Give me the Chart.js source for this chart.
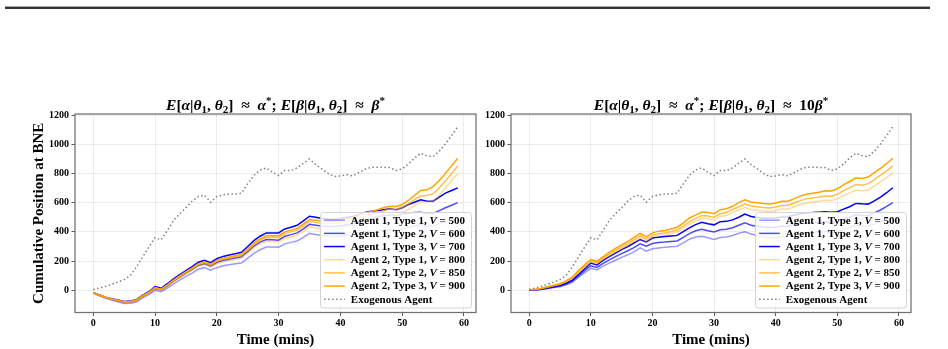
<!DOCTYPE html>
<html>
<head>
<meta charset="utf-8">
<script src="https://cdn.jsdelivr.net/npm/chart.js@4.4.1/dist/chart.umd.min.js"></script>
<style>
  html, body { margin: 0; padding: 0; background: #fff; width: 948px; height: 349px; overflow: hidden; }
  #rule { position: absolute; left: 5px; top: 6px; width: 925px; height: 2px; background: #333; border-top: 1px solid #aaa; }
  .panel { position: absolute; top: 0; height: 349px; }
</style>
</head>
<body>
<div id="rule"></div>
<div class="panel" style="left:0;width:480px"><canvas id="left" width="480" height="349"></canvas></div>
<div class="panel" style="left:480px;width:468px"><canvas id="right" width="468" height="349"></canvas></div>
<script>
// time axis (minutes) and ticks
const minutes = [0,1,2,3,4,5,6,7,8,9,10,11,12,13,14,15,16,17,18,19,20,21,22,23,24,25,26,27,28,29,
                 30,31,32,33,34,35,36,37,38,39,40,41,42,43,44,45,46,47,48,49,50,51,52,53,54,55,56,57,58,59];
const xTicks = [0, 10, 20, 30, 40, 50, 60];
const yTicks = [0, 200, 400, 600, 800, 1000, 1200];

// series meta
const agents = [1, 1, 1, 2, 2, 2];
const types = [1, 2, 3, 1, 2, 3];
const valuations = [500, 600, 700, 800, 850, 900];
const exoLabel = 'Exogenous Agent';

// exogenous agent (same in both panels)
const exogenous = [5,16,27,41,57,73,102,160,228,296,
  360,346,410,478,524,565,610,642,651,603,
  642,653,660,660,665,729,786,824,838,808,
  786,820,820,838,870,899,861,831,801,779,
  783,792,783,806,829,842,842,842,840,820,
  831,865,906,938,922,915,952,1002,1059,1120];

// left panel: E[beta] ~ beta*
const leftA1T1 = [-19,-38,-54,-66,-78,-90,-88,-80,-52,-30,
  0,-10,15,44,70,95,118,144,155,138,
  155,168,175,181,187,220,253,278,296,296,
  295,318,328,338,362,390,382,375,370,368,
  372,378,380,390,400,405,408,412,416,410,
  418,430,440,450,440,440,455,470,485,500];
const leftA1T2 = [-17,-35,-50,-62,-72,-83,-80,-71,-41,-18,
  13,2,31,62,91,117,142,170,182,166,
  190,204,213,221,229,265,302,330,348,346,
  343,370,381,393,420,452,446,440,437,436,
  440,448,456,469,483,494,502,510,516,510,
  520,527,532,535,525,525,545,565,582,600];
const leftA1T3 = [-16,-32,-47,-57,-67,-76,-73,-64,-33,-10,
  25,14,45,78,108,135,162,192,205,189,
  216,232,241,250,260,300,340,370,393,393,
  393,420,432,445,475,507,500,492,488,486,
  490,498,505,518,533,542,546,552,558,551,
  565,587,603,619,610,610,638,665,683,701];
const leftA2T1 = [-17,-36,-51,-63,-74,-85,-82,-73,-43,-20,
  10,-1,27,58,86,112,137,165,176,160,
  182,196,204,212,220,255,291,318,335,334,
  330,356,367,378,404,434,428,422,420,420,
  425,434,443,457,472,484,494,504,512,510,
  530,552,580,606,608,612,650,700,750,800];
const leftA2T2 = [-16,-34,-49,-60,-70,-81,-78,-69,-39,-16,
  16,5,34,66,95,121,147,176,188,172,
  198,212,221,230,238,275,313,342,362,363,
  362,388,400,412,440,471,465,459,457,457,
  462,471,480,494,510,522,532,545,556,554,
  568,592,620,645,650,660,700,750,800,852];
const leftA2T3 = [-15,-33,-48,-59,-69,-79,-76,-67,-37,-14,
  19,8,38,70,99,126,152,181,194,178,
  204,219,228,237,246,284,323,352,373,374,
  374,400,412,424,453,485,480,474,472,472,
  478,488,497,512,528,540,551,565,576,574,
  587,615,649,683,688,710,752,800,852,904];

// right panel: E[beta] ~ 10 beta*
const rightA1T1 = [0,1,6,12,19,25,37,55,88,120,
  150,140,165,186,206,225,243,263,290,268,
  284,290,294,298,302,325,350,365,370,360,
  348,362,365,375,390,400,385,375,365,360,
  362,368,370,380,388,392,394,398,400,396,
  400,415,430,445,440,438,455,470,485,500];
const rightA1T2 = [1,2,7,14,22,29,43,63,98,135,
  168,157,185,208,230,251,271,292,318,302,
  320,327,330,334,338,362,388,408,418,408,
  400,415,418,428,445,462,446,438,433,430,
  432,438,440,450,458,462,464,468,470,466,
  470,485,500,518,512,510,530,550,575,600];
const rightA1T3 = [2,3,9,17,25,33,48,70,108,148,
  186,174,205,230,254,278,300,324,348,331,
  358,364,368,372,376,402,428,450,466,455,
  448,470,472,482,500,522,505,498,494,493,
  495,502,503,515,525,530,532,535,537,534,
  538,556,572,595,592,590,612,638,668,702];
const rightA2T1 = [4,5,12,21,31,40,58,82,122,159,
  194,183,211,238,263,284,307,332,356,335,
  366,376,380,389,399,424,451,474,493,490,
  482,505,512,532,550,566,553,548,543,540,
  545,556,557,572,587,598,604,609,616,614,
  626,648,667,686,680,688,714,744,772,802];
const rightA2T2 = [4,5,13,22,33,42,61,86,128,167,
  202,191,220,248,274,296,320,346,372,350,
  377,388,393,402,413,440,468,492,511,508,
  500,524,532,553,572,591,577,572,567,564,
  570,581,582,598,614,626,632,638,646,644,
  657,682,703,724,720,730,758,788,818,852];
const rightA2T3 = [5,6,14,24,35,45,65,91,135,175,
  211,200,230,260,287,310,335,362,389,366,
  393,405,410,420,432,460,495,515,536,532,
  525,552,558,575,600,620,605,600,595,591,
  598,610,610,628,645,658,665,672,682,680,
  695,722,745,768,765,775,805,835,868,903];

const SERIF = '"Liberation Serif", "DejaVu Serif", serif';
const lineColors = [
  'rgba(0,0,255,0.4)', 'rgba(0,0,255,0.7)', 'rgba(0,0,255,1)',
  'rgba(255,165,0,0.4)', 'rgba(255,165,0,0.7)', 'rgba(255,165,0,1)'
];
const exoColor = '#808080';

// title runs: [text, kind]  kind: b = bold, bi = bold italic, sub, sup
const titleHead = [['E','bi'],['[','b'],['α','bi'],['|','b'],['θ','bi'],['1','sub'],[', ','b'],['θ','bi'],['2','sub'],[']  ≈  ','b'],['α','bi'],['*','sup'],['; ','b'],
  ['E','bi'],['[','b'],['β','bi'],['|','b'],['θ','bi'],['1','sub'],[', ','b'],['θ','bi'],['2','sub'],[']  ≈  ','b']];
const titles = {
  left: titleHead.concat([['β','bi'],['*','sup']]),
  right: titleHead.concat([['10','b'],['β','bi'],['*','sup']])
};

function runFont(kind, size) {
  if (kind === 'bi') return `italic bold ${size}px ${SERIF}`;
  if (kind === 'sub' || kind === 'sup') return `bold ${Math.round(size * 0.7)}px ${SERIF}`;
  return `bold ${size}px ${SERIF}`;
}

function drawRuns(ctx, runs, x, y, size, align) {
  let total = 0;
  const widths = runs.map(([t, k]) => { ctx.font = runFont(k, size); const w = ctx.measureText(t).width; total += w; return w; });
  let cx = align === 'center' ? x - total / 2 : x;
  runs.forEach(([t, k], i) => {
    ctx.font = runFont(k, size);
    let dy = 0;
    if (k === 'sub') dy = size * 0.22;
    if (k === 'sup') dy = -size * 0.38;
    ctx.fillText(t, cx, y + dy);
    cx += widths[i];
  });
}

const decor = {
  id: 'decor',
  afterDraw(chart) {
    const { ctx, chartArea: a } = chart;
    ctx.save();
    // axes frame
    ctx.strokeStyle = '#707070';
    ctx.lineWidth = 1.25;
    ctx.strokeRect(a.left, a.top, a.right - a.left, a.bottom - a.top);

    // title
    ctx.fillStyle = '#000';
    ctx.textBaseline = 'alphabetic';
    ctx.textAlign = 'left';
    drawRuns(ctx, titles[chart.canvas.id], (a.left + a.right) / 2, a.top - 4, 15.5, 'center');

    // legend
    const w = 151, h = 95.5;
    const x0 = a.right - 4.5 - w, y0 = a.bottom - 4.5 - h;
    ctx.beginPath();
    ctx.roundRect(x0, y0, w, h, 3);
    ctx.fillStyle = 'rgba(255,255,255,0.82)';
    ctx.fill();
    ctx.strokeStyle = '#d4d4d4';
    ctx.lineWidth = 1;
    ctx.stroke();

    ctx.textBaseline = 'middle';
    chart.data.datasets.forEach((ds, i) => {
      const cy = y0 + 7.7 + i * 13.17;
      ctx.beginPath();
      ctx.strokeStyle = ds.borderColor;
      ctx.lineWidth = ds.borderWidth;
      ctx.setLineDash(ds.borderDash || []);
      ctx.moveTo(x0 + 3.6, cy);
      ctx.lineTo(x0 + 24.3, cy);
      ctx.stroke();
      ctx.setLineDash([]);
      ctx.fillStyle = '#000';
      drawRuns(ctx, ds.legendRuns, x0 + 30.3, cy + 0.5, 11, 'left');
    });
    ctx.restore();
  }
};

function buildDatasets(series) {
  const sets = series.map((vals, i) => ({
    label: `Agent ${agents[i]}, Type ${types[i]}, V = ${valuations[i]}`,
    legendRuns: [[`Agent ${agents[i]}, Type ${types[i]}, `, 'b'], ['V', 'bi'], [` = ${valuations[i]}`, 'b']],
    data: vals.map((v, k) => ({ x: minutes[k], y: v })),
    borderColor: lineColors[i],
    borderWidth: 1.5,
    order: 6 - i
  }));
  sets.push({
    label: exoLabel,
    legendRuns: [[exoLabel, 'b']],
    data: exogenous.map((v, k) => ({ x: minutes[k], y: v })),
    borderColor: exoColor,
    borderWidth: 1.5,
    borderDash: [1.5, 2.5],
    order: 0
  });
  return sets;
}

const tickFont = { family: SERIF, size: 10, weight: 'bold' };
const titleFont = { family: SERIF, size: 15, weight: 'bold' };

function makeChart(id, series, yWidth, padRight, showYTitle) {
  const canvas = document.getElementById(id);
  return new Chart(canvas.getContext('2d'), {
    type: 'line',
    data: { datasets: buildDatasets(series) },
    options: {
      responsive: false,
      animation: false,
      events: [],
      layout: { padding: { top: 114, right: padRight, left: 0, bottom: 0 } },
      elements: { point: { radius: 0 }, line: { tension: 0, fill: false } },
      plugins: { legend: { display: false }, title: { display: false }, tooltip: { enabled: false } },
      scales: {
        x: {
          type: 'linear',
          min: -2.95,
          max: 61.95,
          afterBuildTicks: s => { s.ticks = xTicks.map(v => ({ value: v })); },
          afterFit: s => { s.height = 349 - 312.5; },
          ticks: { font: tickFont, color: '#000', padding: 1.5, maxRotation: 0, callback: v => String(v) },
          grid: { color: 'rgba(0,0,0,0.09)', lineWidth: 0.8, tickLength: 3.5, tickColor: '#444', tickWidth: 0.9 },
          border: { display: false },
          title: { display: true, text: 'Time (mins)', font: titleFont, color: '#000', padding: { top: 8, bottom: 0 } }
        },
        y: {
          min: -152,
          max: 1207,
          afterBuildTicks: s => { s.ticks = yTicks.map(v => ({ value: v })); },
          afterFit: s => { s.width = yWidth; },
          ticks: { font: tickFont, color: '#000', padding: 2.5, callback: v => String(v) },
          grid: { color: 'rgba(0,0,0,0.09)', lineWidth: 0.8, tickLength: 3.5, tickColor: '#444', tickWidth: 0.9 },
          border: { display: false },
          title: { display: showYTitle, text: 'Cumulative Position at BNE', font: titleFont, color: '#000', padding: { top: 30, bottom: 0 } }
        }
      }
    },
    plugins: [decor]
  });
}

makeChart('left', [leftA1T1, leftA1T2, leftA1T3, leftA2T1, leftA2T2, leftA2T3], 75, 4, true);
makeChart('right', [rightA1T1, rightA1T2, rightA1T3, rightA2T1, rightA2T2, rightA2T3], 31, 37, false);
</script>
</body>
</html>
